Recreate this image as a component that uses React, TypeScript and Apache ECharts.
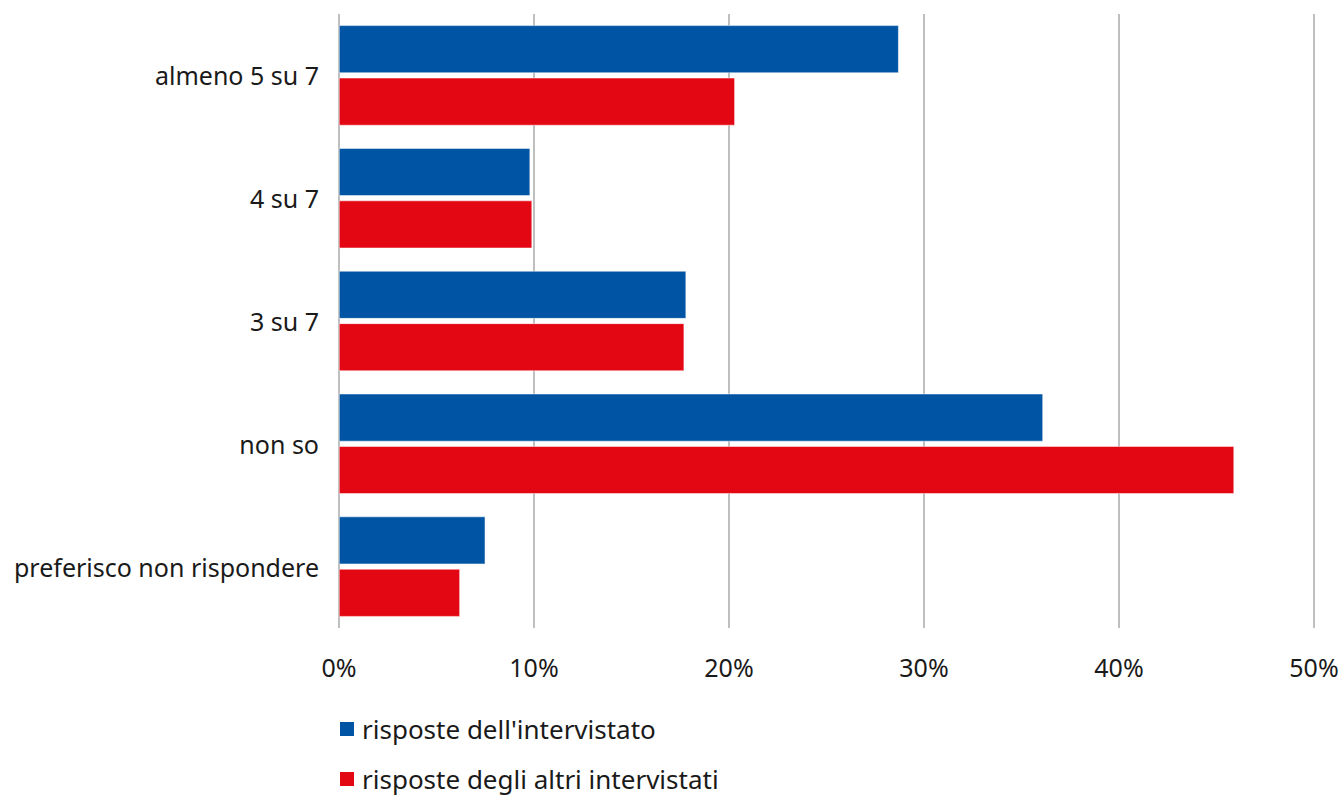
import React, { useEffect, useRef } from "react";
import * as echarts from "echarts";

const categories = ["almeno 5 su 7", "4 su 7", "3 su 7", "non so", "preferisco non rispondere"];
const seriesNames = ["risposte dell'intervistato", "risposte degli altri intervistati"];
const intervistato = [28.7, 9.8, 17.8, 36.1, 7.5];
const altri = [20.3, 9.9, 17.7, 45.9, 6.2];
const colors = ["#0054A4", "#E30613"];

const FONT = "'Noto Sans', sans-serif";

export default function App() {
  const ref = useRef<HTMLDivElement>(null);
  useEffect(() => {
    if (!ref.current) return;
    const chart = echarts.init(ref.current, undefined, { renderer: "svg" });
    chart.setOption({
      animation: false,
      textStyle: { fontFamily: FONT },
      grid: { left: 339, right: 28, top: 14, bottom: 170, containLabel: false },
      legend: {
        orient: "vertical",
        left: 333,
        top: 711,
        itemWidth: 16,
        itemHeight: 16,
        itemGap: 24,
        icon: "rect",
        textStyle: { fontSize: 26, color: "#1a1a1a", fontFamily: FONT, padding: [0, 0, 0, 2] },
        data: seriesNames,
      },
      xAxis: {
        type: "value",
        min: 0,
        max: 50,
        interval: 10,
        axisLine: { show: false },
        axisTick: { show: false },
        axisLabel: { formatter: "{value}%", fontSize: 25, color: "#1a1a1a", margin: 26, fontFamily: FONT },
        splitLine: { show: true, lineStyle: { color: "#BFBFBF", width: 2 } },
      },
      yAxis: {
        type: "category",
        inverse: true,
        data: categories,
        axisLine: { show: false },
        axisTick: { show: false },
        axisLabel: { fontSize: 25, color: "#1a1a1a", margin: 20, fontFamily: FONT },
      },
      series: [
        {
          name: seriesNames[0],
          type: "bar",
          data: intervistato,
          itemStyle: { color: colors[0], borderColor: "#ffffff", borderWidth: 0.5 },
          barCategoryGap: "18.5%",
          barGap: "10%",
        },
        {
          name: seriesNames[1],
          type: "bar",
          data: altri,
          itemStyle: { color: colors[1], borderColor: "#ffffff", borderWidth: 0.5 },
          barCategoryGap: "18.5%",
          barGap: "10%",
        },
      ],
    });
    return () => chart.dispose();
  }, []);
  return <div ref={ref} style={{ width: 1342, height: 798, position: "absolute", left: 0, top: 0 }} />;
}
